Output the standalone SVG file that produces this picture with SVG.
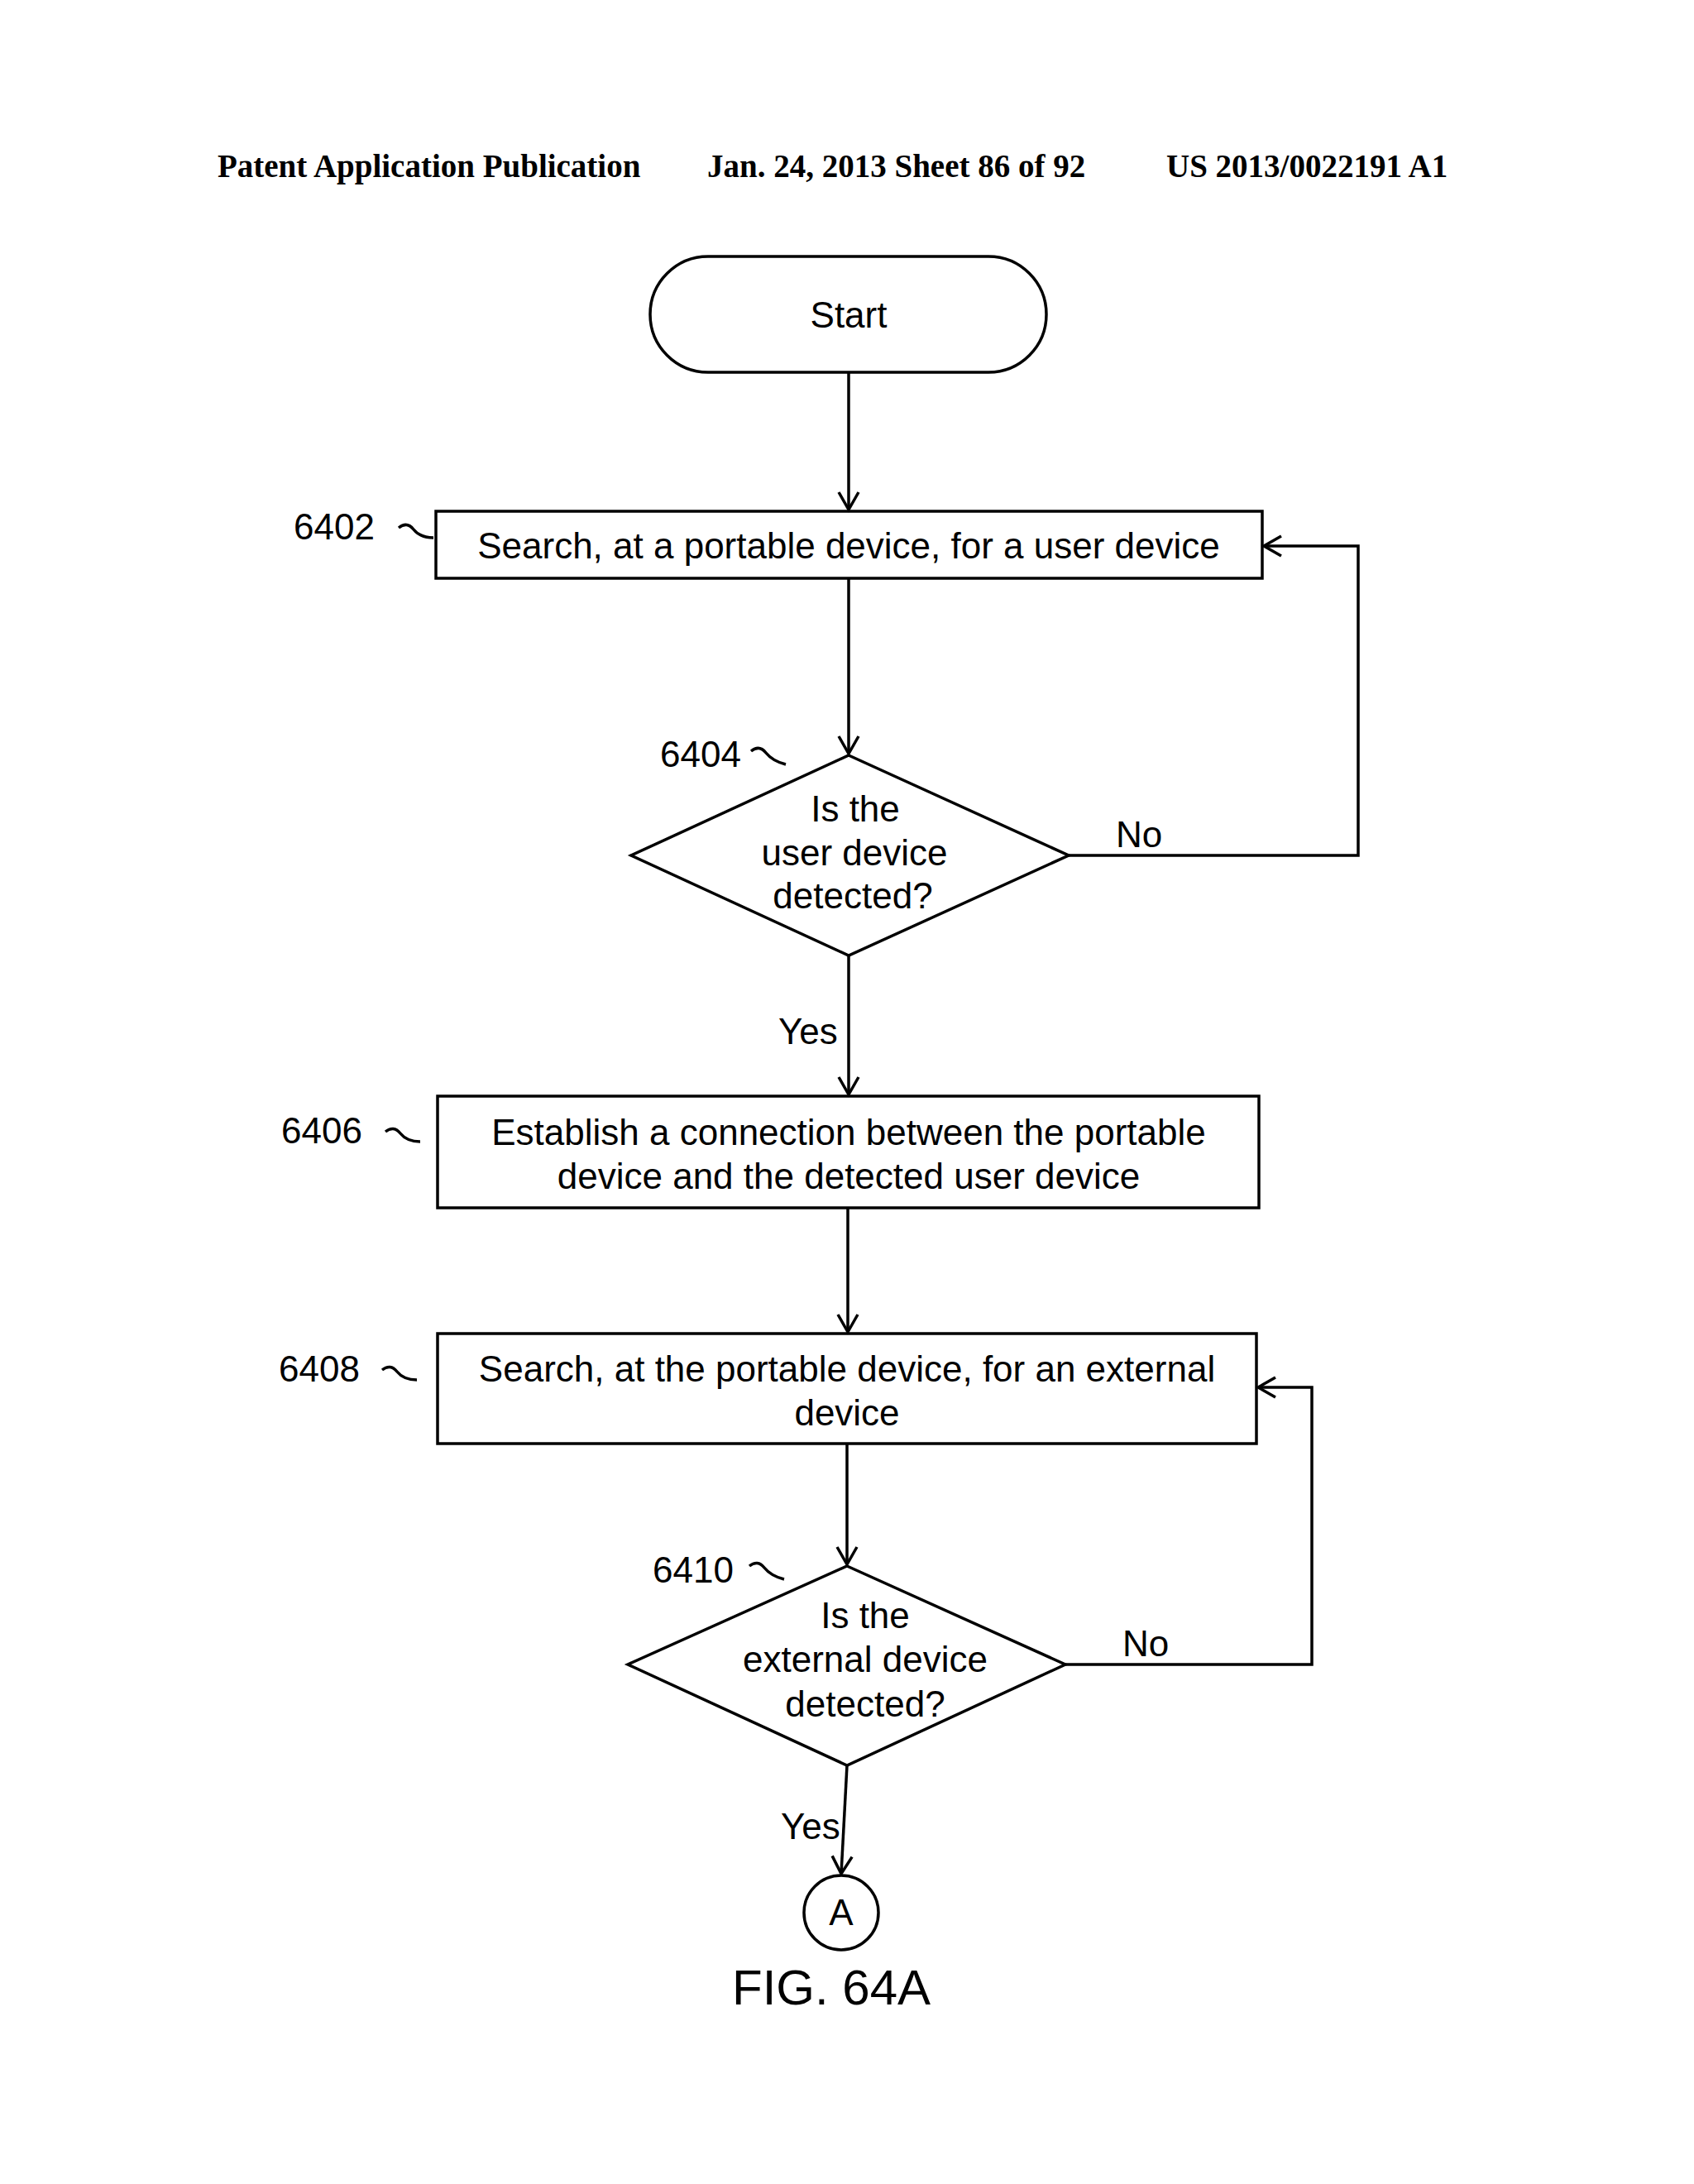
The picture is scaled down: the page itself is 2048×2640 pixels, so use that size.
<svg xmlns="http://www.w3.org/2000/svg" width="2048" height="2640" viewBox="0 0 2048 2640">
<defs>
<marker id="ah" markerWidth="30" markerHeight="30" refX="24" refY="15" orient="auto" markerUnits="userSpaceOnUse"><path d="M3,3 L24,15 L3,27" fill="none" stroke="#000" stroke-width="3.5"/></marker>
</defs>
<style>
.s{fill:none;stroke:#000;stroke-width:3.5}
.t{font-family:"Liberation Sans",Arial,sans-serif;font-size:44px;fill:#000;text-anchor:middle}
.l{font-family:"Liberation Sans",Arial,sans-serif;font-size:44px;fill:#000}
.h{font-family:"Liberation Serif","Times New Roman",serif;font-size:39px;font-weight:bold;fill:#000}
</style>
<rect width="2048" height="2640" fill="#fff"/>
<g id="header">
<text class="h" x="263" y="214">Patent Application Publication</text>
<text class="h" x="855" y="214">Jan. 24, 2013  Sheet 86 of 92</text>
<text class="h" x="1410" y="214">US 2013/0022191 A1</text>
</g>
<g id="start"><rect class="s" x="786" y="310" width="479" height="140" rx="70"/><text class="t" x="1026" y="396">Start</text></g>
<g id="n6402"><rect class="s" x="527" y="618" width="999" height="81"/><text class="t" x="1026" y="675">Search, at a portable device, for a user device</text>
<text class="l" x="355" y="652">6402</text><path class="s" d="M482,638 q10,-8 18,2 q8,10 24,10"/></g>
<g id="n6404"><polygon class="s" points="1026,913 1292,1034 1026,1155 763,1034"/>
<text class="t" x="1034" y="993">Is the</text><text class="t" x="1033" y="1046">user device</text><text class="t" x="1031" y="1098">detected?</text>
<text class="l" x="798" y="927">6404</text><path class="s" d="M908,908 q10,-8 18,2 q8,10 24,14"/></g>
<g id="n6406"><rect class="s" x="529" y="1325" width="993" height="135"/>
<text class="t" x="1026" y="1384">Establish a connection between the portable</text><text class="t" x="1026" y="1437">device and the detected user device</text>
<text class="l" x="340" y="1382">6406</text><path class="s" d="M466,1368 q10,-8 18,2 q8,10 24,10"/></g>
<g id="n6408"><rect class="s" x="529" y="1612" width="990" height="133"/>
<text class="t" x="1024" y="1670">Search, at the portable device, for an external</text><text class="t" x="1024" y="1723">device</text>
<text class="l" x="337" y="1670">6408</text><path class="s" d="M462,1656 q10,-8 18,2 q8,10 24,10"/></g>
<g id="n6410"><polygon class="s" points="1024,1893 1288,2012 1024,2134 759,2012"/>
<text class="t" x="1046" y="1968">Is the</text><text class="t" x="1046" y="2021">external device</text><text class="t" x="1046" y="2075">detected?</text>
<text class="l" x="789" y="1913">6410</text><path class="s" d="M906,1893 q10,-8 18,2 q8,10 24,14"/></g>
<g id="nA"><circle class="s" cx="1017" cy="2312" r="45"/><text class="t" x="1017" y="2327">A</text></g>
<g id="connectors">
<line class="s" x1="1026" y1="450" x2="1026" y2="616" marker-end="url(#ah)"/>
<line class="s" x1="1026" y1="699" x2="1026" y2="911" marker-end="url(#ah)"/>
<polyline class="s" points="1292,1034 1642,1034 1642,660 1528,660" marker-end="url(#ah)"/>
<line class="s" x1="1026" y1="1155" x2="1026" y2="1323" marker-end="url(#ah)"/>
<line class="s" x1="1025" y1="1460" x2="1025" y2="1610" marker-end="url(#ah)"/>
<line class="s" x1="1024" y1="1745" x2="1024" y2="1891" marker-end="url(#ah)"/>
<polyline class="s" points="1288,2012 1586,2012 1586,1677 1521,1677" marker-end="url(#ah)"/>
<line class="s" x1="1024" y1="2134" x2="1017" y2="2265" marker-end="url(#ah)"/>
<text class="l" x="1349" y="1024">No</text>
<text class="l" x="941" y="1262">Yes</text>
<text class="l" x="1357" y="2002">No</text>
<text class="l" x="944" y="2223">Yes</text>
</g>
<text class="l" x="885" y="2423" style="font-size:60px">FIG. 64A</text>
</svg>
